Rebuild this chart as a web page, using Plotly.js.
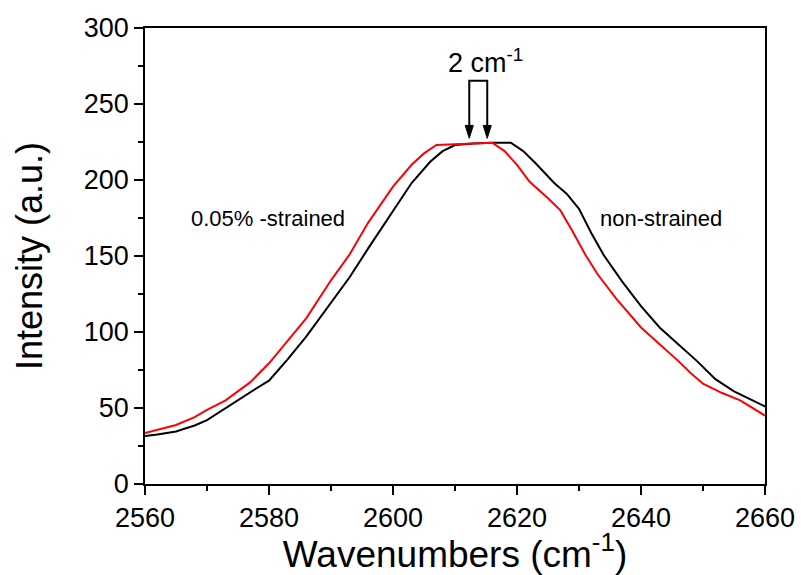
<!DOCTYPE html>
<html>
<head>
<meta charset="utf-8">
<script src="https://cdn.plot.ly/plotly-3.0.1.min.js"></script>
<style>html,body{margin:0;padding:0;background:#fff;}#chart{width:801px;height:575px;}</style>
</head>
<body>
<div id="chart"></div>
<script>
// Non-strained (black)
const xNon = [2560,2562,2565,2568,2570,2573,2576,2578,2580,2583,2586,2590,2593,2596,2600,2603,2606,2608,2610,2613,2616,2619,2621,2623,2626,2628,2630,2632,2634,2637,2640,2643,2646,2649,2652,2655,2658,2660];
const yNon = [31.5,32.5,34.5,38.5,42,50,58,63,68,82,97,119,136,155,180,198,212,219,223,224,224.5,224.5,219,211,198,191,181,165,150.5,133,117,103,92,81,69,61,55,51];
// 0.05% strained (red)
const xStr = [2560,2562,2565,2568,2570,2573,2577,2580,2583,2586,2590,2593,2596,2600,2603,2605,2607,2610,2613,2616,2618,2620,2622,2625,2627,2629,2631,2633,2636,2640,2643,2646,2648,2650,2653,2656,2660];
const yStr = [33.5,35.5,38.8,44,48.7,55,67,79.4,94,109,134,151,172,195.6,210,217.5,223,223.5,224,224.5,219,210,199,188,180,166,151,138,122,103,92,81,73,66,60,55,45];

const xTicks = [2560,2580,2600,2620,2640,2660];
const yTicks = [0,50,100,150,200,250,300];

// shift-marker geometry (peak positions of the two curves)
const peakStr = 2612.3, peakNon = 2615.2;
const tipY = 227.4, topY = 265.3, headH = 8.5, headHW = 0.65;

const font = 'Liberation Sans, Arial, sans-serif';

const traces = [
  {x: xNon, y: yNon, mode: 'lines', line: {color: '#000000', width: 2}, name: 'non-strained'},
  {x: xStr, y: yStr, mode: 'lines', line: {color: '#ff0000', width: 2}, name: '0.05% -strained'}
];

function head(x) {
  return {type: 'path', xref: 'x', yref: 'y',
    path: `M ${x-headHW},${tipY+headH} L ${x+headHW},${tipY+headH} L ${x},${tipY} Z`,
    fillcolor: '#000', line: {color: '#000', width: 1}};
}

const layout = {
  width: 801, height: 575,
  margin: {l: 145, r: 36, t: 28, b: 91},
  paper_bgcolor: '#fff', plot_bgcolor: '#fff',
  showlegend: false,
  font: {family: font, color: '#000'},
  xaxis: {
    range: [2560, 2660], tickvals: xTicks, ticktext: xTicks.map(String),
    ticks: 'outside', ticklen: 9, tickwidth: 1.5, tickcolor: '#000',
    minor: {dtick: 10, ticks: 'outside', ticklen: 5, tickwidth: 1.5, tickcolor: '#000', showgrid: false},
    showline: true, linecolor: '#000', linewidth: 1.8, mirror: true,
    showgrid: false, zeroline: false,
    tickfont: {size: 27, family: font},
    title: {text: 'Wavenumbers (cm<sup>-1</sup>)', font: {size: 37, family: font}, standoff: 0}
  },
  yaxis: {
    range: [0, 300], tickvals: yTicks, ticktext: yTicks.map(String),
    ticks: 'outside', ticklen: 9, tickwidth: 1.5, tickcolor: '#000',
    minor: {dtick: 25, ticks: 'outside', ticklen: 5, tickwidth: 1.5, tickcolor: '#000', showgrid: false},
    showline: true, linecolor: '#000', linewidth: 1.8, mirror: true,
    showgrid: false, zeroline: false,
    tickfont: {size: 27, family: font},
    title: {text: 'Intensity (a.u.)', font: {size: 36, family: font}, standoff: 30}
  },
  shapes: [
    {type: 'path', xref: 'x', yref: 'y',
     path: `M ${peakStr},${tipY+headH} L ${peakStr},${topY} L ${peakNon},${topY} L ${peakNon},${tipY+headH}`,
     line: {color: '#000', width: 2}},
    head(peakStr), head(peakNon)
  ],
  annotations: [
    {x: (peakStr+peakNon)/2 + 1.2, y: 278, xref: 'x', yref: 'y', showarrow: false, text: '2 cm<sup>-1</sup>', font: {size: 27, family: font, color: '#000'}},
    {x: 2579.8, y: 175, xref: 'x', yref: 'y', showarrow: false, text: '0.05% -strained', font: {size: 22, family: font, color: '#000'}},
    {x: 2643.2, y: 175, xref: 'x', yref: 'y', showarrow: false, text: 'non-strained', font: {size: 22, family: font, color: '#000'}}
  ]
};

Plotly.newPlot('chart', traces, layout, {displayModeBar: false, staticPlot: true});
</script>
</body>
</html>
